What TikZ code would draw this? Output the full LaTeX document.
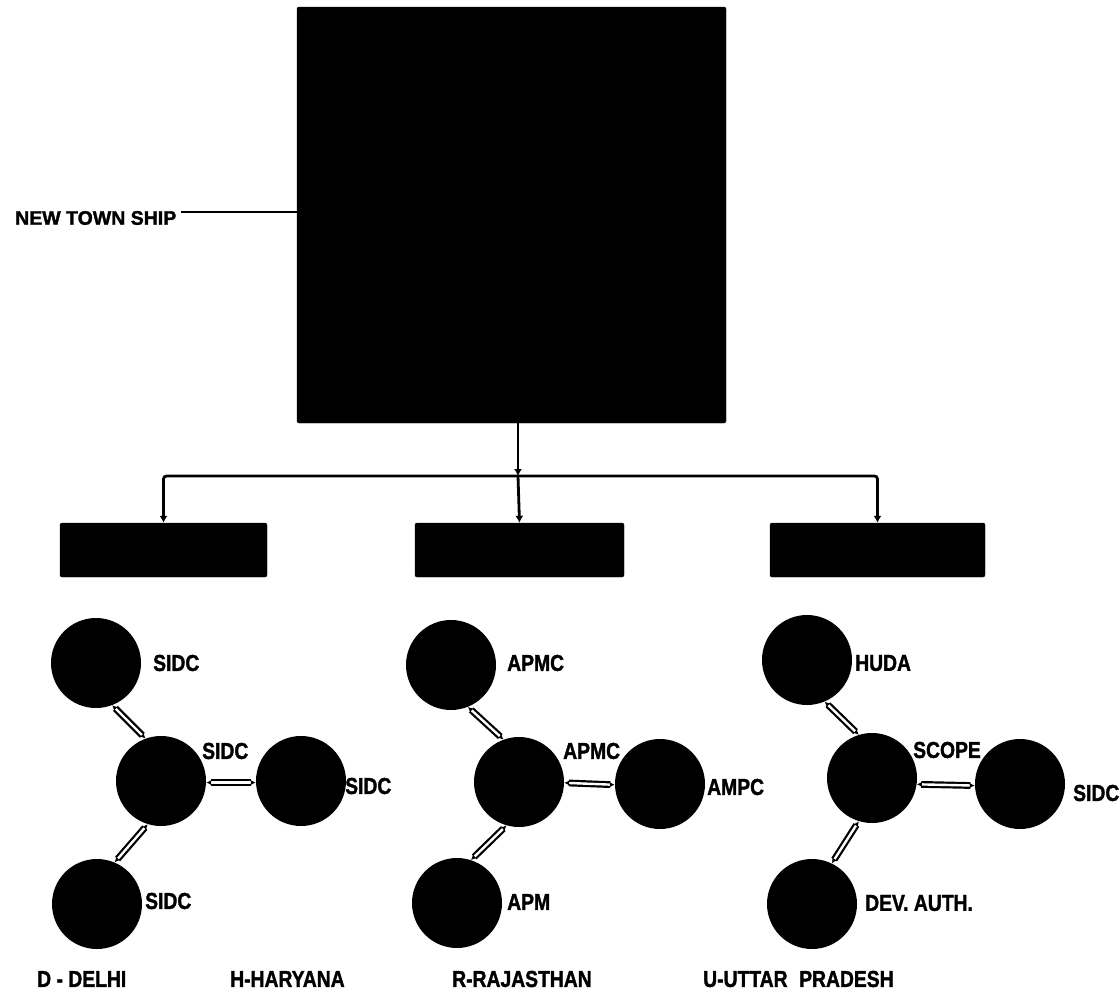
\documentclass[tikz,border=0pt]{standalone}
\usepackage{fontspec}
\setmainfont{Liberation Sans}[BoldFeatures={FakeBold=1.6}]
\usetikzlibrary{arrows.meta}
\newcommand\nrw[1]{\scalebox{0.84}[1]{#1}}
\begin{document}
\begin{tikzpicture}[x=1pt,y=-1pt,
  blk/.style={fill=black,draw=black,rounded corners=2pt,inner sep=0pt},
  ball/.style={circle,fill=black,minimum size=90pt,inner sep=0pt},
  lab/.style={anchor=west,inner sep=0pt,font=\fontsize{23}{23}\selectfont\bfseries},
  tree/.style={line width=2.8pt,-{Latex[length=7pt,width=8pt]}},
  conn/.style={double=white,draw=black,line width=2.2pt,double distance=2.4pt,
    {Latex[length=5pt,width=5pt]}-{Latex[length=5pt,width=5pt]}}]
\useasboundingbox (0,0) rectangle (1120,997);
\fill[white] (0,0) rectangle (1120,997);

% boxes
\node[blk,minimum width=429pt,minimum height=416pt] (big) at (511.5,215) {};
\node[blk,minimum width=207pt,minimum height=54pt] (lbox) at (163.5,550) {};
\node[blk,minimum width=209pt,minimum height=54pt] (mbox) at (519.5,550) {};
\node[blk,minimum width=215pt,minimum height=54pt] (rbox) at (877.5,550) {};

% new town ship
\node[anchor=west,inner sep=0pt,font=\fontsize{19.5}{19.5}\selectfont\bfseries] (nts) at (15,218) {NEW TOWN SHIP};
\coordinate (ntsa) at ([xshift=5pt,yshift=6pt]nts.east);
\draw[line width=2.4pt] (ntsa) -- (ntsa -| big.west);

% tree
\coordinate (j) at (518,476);
\draw[tree] (big.south -| j) -- (j);
\draw[tree,rounded corners=3pt] (j) -| (lbox.north);
\draw[tree,rounded corners=3pt] (j) -| (rbox.north);
\draw[tree] (j) -- (mbox.north);

% cluster 1
\node[ball] (d1) at (96,663) {};
\node[ball] (d0) at (161,781) {};
\node[ball] (d2) at (301,781) {};
\node[ball] (d3) at (97,904) {};
\draw[conn] (d1.-69) -- (d0.110);
\draw[conn] (d0.-2) -- (d2.182);
\draw[conn] (d0.-107) -- (d3.67);
\node[lab] (t11) at (153,663) {\nrw{SIDC}};
\node[lab] (t10) at (202,751) {\nrw{SIDC}};
\node[lab] (t12) at (345,786) {\nrw{SIDC}};
\node[lab] (t13) at (145,901) {\nrw{SIDC}};

% cluster 2
\node[ball] (r1) at (451,665) {};
\node[ball] (r0) at (519,782) {};
\node[ball] (r2) at (660,784) {};
\node[ball] (r3) at (457,903) {};
\draw[conn] (r1.-68) -- (r0.110);
\draw[conn] (r0.-1) -- (r2.181);
\draw[conn] (r0.-106) -- (r3.72);
\node[lab] (t21) at (507,663) {\nrw{APMC}};
\node[lab] (t20) at (563,751) {\nrw{APMC}};
\node[lab] (t22) at (707,787) {\nrw{AMPC}};
\node[lab] (t23) at (507,902) {\nrw{APM}};

% cluster 3
\node[ball] (h1) at (807,660) {};
\node[ball] (h0) at (872,778) {};
\node[ball] (h2) at (1020,784) {};
\node[ball] (h3) at (812,904) {};
\draw[conn] (h1.-67) -- (h0.107);
\draw[conn] (h0.-8) -- (h2.182);
\draw[conn] (h0.-107) -- (h3.64);
\node[lab] (t31) at (855,663) {\nrw{HUDA}};
\node[lab] (t30) at (913,750) {\nrw{SCOPE}};
\node[lab] (t32) at (1073,793) {\nrw{SIDC}};
\node[lab] (t33) at (865,903) {\nrw{DEV. AUTH.}};

% legend
\node[lab] (k1) at (37,979) {\nrw{D - DELHI}};
\node[lab] (k2) at (230,979) {\nrw{H-HARYANA}};
\node[lab] (k3) at (452,979) {\nrw{R-RAJASTHAN}};
\node[lab] (k4) at (703,979) {\nrw{U-UTTAR\hspace{0.6em}PRADESH}};
\end{tikzpicture}
\end{document}
